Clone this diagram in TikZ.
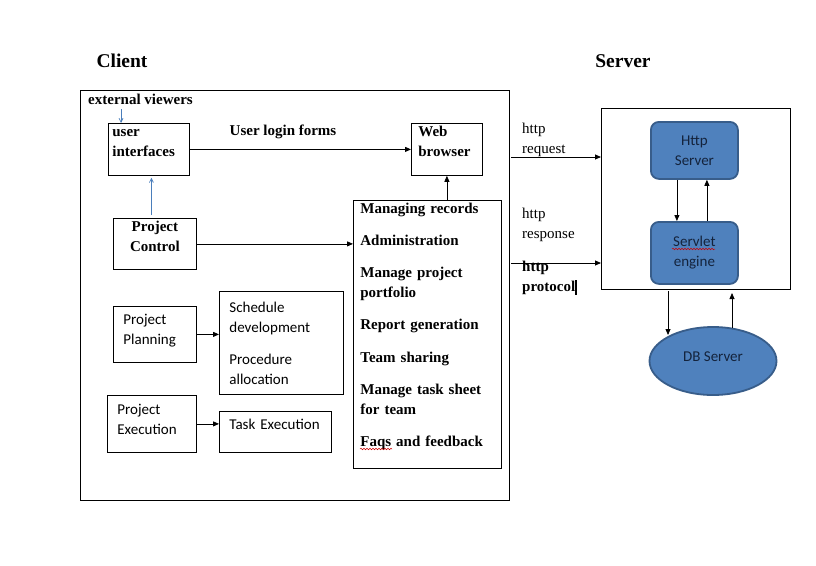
\documentclass[tikz,border=0pt]{standalone}
\usepackage{fontspec}
\setmainfont{Liberation Serif}
\newfontfamily\calfont{Carlito}
\usetikzlibrary{arrows.meta,shapes.geometric,decorations.pathmorphing}
\definecolor{srvfill}{RGB}{79,129,189}
\definecolor{srvedge}{RGB}{56,93,138}
\definecolor{srvtext}{RGB}{20,35,60}
\definecolor{bluearr}{RGB}{74,126,187}
\begin{document}
\begin{tikzpicture}[x=1pt,y=-1pt,
  box/.style={draw, line width=0.8pt, inner ysep=0pt, align=left, anchor=north west},
  bt/.style={font=\fontsize{15}{20}\selectfont\bfseries},
  rt/.style={font=\fontsize{15}{20}\selectfont},
  st/.style={font=\calfont\fontsize{15}{20}\selectfont},
  arr/.style={-{Triangle[length=6pt,width=5pt]}, line width=0.8pt},
  barr/.style={-{Straight Barb[length=4pt,width=4pt]}, draw=bluearr, line width=0.7pt},
  blu/.style={draw=srvedge, fill=srvfill, line width=1.8pt, rounded corners=8pt,
    font=\calfont\fontsize{15}{20}\selectfont, text=srvtext, align=center, anchor=north west, inner sep=0pt},
  squig/.style={draw=red!80!black, line width=0.5pt, decorate, decoration={snake, amplitude=0.8pt, segment length=3pt}}
]
\useasboundingbox[fill=white] (0,0) rectangle (816,565);

% titles
\node[font=\fontsize{19.5}{24}\selectfont\bfseries] (client) at (122,61) {Client};
\node[font=\fontsize{19.5}{24}\selectfont\bfseries] (server) at (623,61) {Server};

% client frame
\node[draw, line width=0.8pt, anchor=north west, minimum width=429pt, minimum height=410pt, inner sep=0pt] (cframe) at (80,90) {};
\node[bt, anchor=west, inner sep=0pt] (ev) at (88,99) {external viewers};

% client boxes
\node[box, bt, minimum height=52pt, text width=73pt, inner xsep=4pt, text depth=32pt] (ui) at (108,123) {user\\interfaces};
\node[box, bt, minimum height=52pt, text width=57pt, inner xsep=7pt, text depth=36pt] (wb) at (411,123) {Web\\browser};
\node[box, bt, minimum height=51pt, text width=83pt, inner xsep=0pt, align=center, text depth=36pt] (pc) at (113,218) {Project\\Control};
\node[box, bt, minimum height=268pt, text width=134pt, inner xsep=7pt, text depth=253pt] (list) at (353,200)
  {Managing records\\[12pt]Administration\\[12.5pt]Manage project\\portfolio\\[12pt]Report generation\\[12.5pt]Team sharing\\[12pt]Manage task sheet\\for team\\[12.5pt]Faqs and feedback};
\node[box, st, minimum height=56pt, text width=63pt, inner xsep=10pt, text depth=31pt] (pp) at (113,306) {Project\\Planning};
\node[box, st, minimum height=103pt, text width=104pt, inner xsep=10pt] (sch) at (219,291) {Schedule\\development\\[12pt]Procedure\\allocation};
\node[box, st, minimum height=57pt, text width=69pt, inner xsep=10pt, text depth=30pt] (pe) at (107,395) {Project\\Execution};
\node[box, st, minimum height=41pt, text width=92pt, inner xsep=10pt, text depth=16pt] (task) at (219,411) {Task Execution};

% client connectors
\node[bt, inner sep=0pt] (ulf) at (283,132) {User login forms};
\draw[arr] (ui.east) -- (wb.west);
\draw[arr] (list.north -| wb.south) -- (wb.south);
\draw[arr] (pc.east) -- (pc.east -| list.west);
\draw[arr] (pp.east) -- (pp.east -| sch.west);
\draw[arr] (pe.east) -- (pe.east -| task.west);
\coordinate (evp) at (121,109);
\draw[barr] (evp) -- (evp |- ui.north);
\draw[barr] ([xshift=-3.5pt,yshift=3pt]pc.north) -- ([xshift=2.5pt,yshift=-2pt]ui.south);

% server
\node[draw, line width=0.8pt, anchor=north west, minimum width=189pt, minimum height=181pt, inner sep=0pt] (srv) at (601,108) {};
\node[blu, minimum width=87pt, minimum height=57pt] (hs) at (650,121) {Http\\Server};
\node[blu, minimum width=87pt, minimum height=62pt] (se) at (650,221) {Servlet\\engine};
\node[ellipse, draw=srvedge, fill=srvfill, line width=1.8pt, minimum width=127pt, minimum height=68pt,
  inner sep=0pt, text depth=8pt, font=\calfont\fontsize{15}{20}\selectfont, text=srvtext] (db) at (713,361) {DB Server};

\draw[arr] ([xshift=-17.5pt]hs.south) -- ([xshift=-17.5pt]se.north);
\draw[arr] ([xshift=12.5pt]se.north) -- ([xshift=12.5pt]hs.south);
\coordinate (d1) at (668,291);
\coordinate (d2) at (668,335);
\coordinate (u1) at (732,328);
\coordinate (u2) at (732,293);
\draw[arr] (d1) -- (d2);
\draw[arr] (u1) -- (u2);

% spell-check underlines
\coordinate (sq1a) at (672,249);
\coordinate (sq1b) at (715,249);
\draw[squig] (sq1a) -- (sq1b);
\coordinate (sq2a) at (360,449);
\coordinate (sq2b) at (392,449);
\draw[squig] (sq2a) -- (sq2b);

% http arrows
\coordinate (rq) at (511,157);
\coordinate (rs) at (511,263);
\draw[arr] (rq) -- (rq -| srv.west);
\draw[arr] (rs) -- (rs -| srv.west);
\node[rt, anchor=west, align=left, inner sep=0pt] (lreq) at (522,140) {http\\request};
\node[rt, anchor=west, align=left, inner sep=0pt] (lres) at (522,225) {http\\response};
\node[bt, anchor=west, align=left, inner sep=0pt] (lpro) at (522,278) {http\\protocol\rule[-3pt]{2pt}{15pt}};
\end{tikzpicture}
\end{document}
